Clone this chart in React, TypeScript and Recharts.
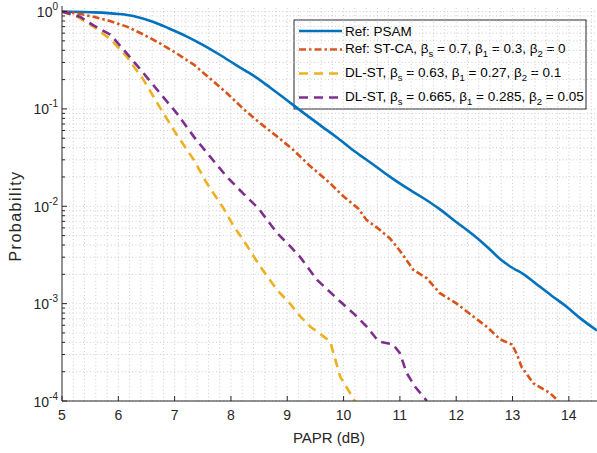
import React from 'react';
import { LineChart, Line, XAxis, YAxis, ReferenceLine, Customized } from 'recharts';

// ---- data ----
const xTicks = [5, 6, 7, 8, 9, 10, 11, 12, 13, 14];
const yDecades = [1e-4, 1e-3, 1e-2, 1e-1, 1];
const yMinor = [2, 3, 4, 5, 6, 7, 8, 9];

const psamX = [5, 5.5, 6, 6.3, 6.6, 6.9, 7.2, 7.5, 7.8, 8.1, 8.4, 8.7, 9.0, 9.3, 9.6, 9.9, 10.2, 10.5, 10.8, 11.1, 11.4, 11.7, 12.0, 12.3, 12.6, 12.8, 13.01, 13.2, 13.4, 13.7, 13.96, 14.2, 14.5];
const psamY = [1.0, 0.985, 0.945, 0.89, 0.79, 0.67, 0.56, 0.455, 0.36, 0.28, 0.22, 0.165, 0.122, 0.09, 0.067, 0.05, 0.0365, 0.0275, 0.0205, 0.0157, 0.0123, 0.0094, 0.0069, 0.0051, 0.0036, 0.0028, 0.00231, 0.002, 0.00163, 0.0012, 0.00093, 0.00071, 0.00053];

const stcaX = [5, 5.3, 5.56, 5.85, 6.15, 6.45, 6.74, 7.04, 7.34, 7.63, 7.93, 8.22, 8.52, 8.82, 9.11, 9.4, 9.7, 10.0, 10.26, 10.41, 10.6, 10.82, 11.0, 11.24, 11.48, 11.71, 12.01, 12.3, 12.54, 12.78, 12.99, 13.08, 13.16, 13.37, 13.67, 13.81];
const stcaY = [1.0, 0.95, 0.885, 0.8, 0.7, 0.58, 0.471, 0.37, 0.285, 0.205, 0.145, 0.1, 0.0711, 0.052, 0.0378, 0.026, 0.0186, 0.0126, 0.0095, 0.0072, 0.006, 0.0047, 0.0035, 0.00222, 0.00182, 0.00128, 0.001, 0.00074, 0.00058, 0.00043, 0.00038, 0.0003, 0.000224, 0.000152, 0.00012, 0.0001];

const dl1X = [5, 5.27, 5.56, 5.86, 6.15, 6.45, 6.71, 7.04, 7.34, 7.57, 7.87, 8.05, 8.22, 8.52, 8.82, 9.05, 9.23, 9.41, 9.76, 9.82, 9.94, 10.2];
const dl1Y = [1.0, 0.885, 0.7, 0.52, 0.344, 0.198, 0.11, 0.054, 0.03, 0.0173, 0.0095, 0.0062, 0.0045, 0.0024, 0.00138, 0.001, 0.00074, 0.00058, 0.00041, 0.00031, 0.000178, 0.0001];

const dl2X = [5, 5.32, 5.56, 5.86, 6.15, 6.45, 6.74, 7.04, 7.34, 7.63, 7.93, 8.22, 8.49, 8.82, 9.05, 9.23, 9.53, 9.94, 10.18, 10.41, 10.62, 10.88, 11.0, 11.12, 11.27, 11.48];
const dl2Y = [1.0, 0.885, 0.72, 0.58, 0.372, 0.232, 0.145, 0.09, 0.0519, 0.0323, 0.02, 0.0135, 0.0095, 0.0053, 0.0039, 0.003, 0.00175, 0.00105, 0.00079, 0.00058, 0.00041, 0.00038, 0.00031, 0.000194, 0.00014, 0.0001];

const zip = (xs: number[], ys: number[]) => xs.map((x, i) => ({ x, y: ys[i] }));
const psamData = zip(psamX, psamY);
const stcaData = zip(stcaX, stcaY);
const dl1Data = zip(dl1X, dl1Y);
const dl2Data = zip(dl2X, dl2Y);

const yAllTicks: number[] = [];
yDecades.forEach((d, i) => {
  yAllTicks.push(d);
  if (i < yDecades.length - 1) yMinor.forEach((m) => yAllTicks.push(+(m * d).toPrecision(3)));
});
const xGrid: number[] = [];
for (let i = 1; i < 48; i++) xGrid.push(+(5 + i * 0.2).toFixed(2));

const C_BLUE = '#0072BD';
const C_ORANGE = '#D95319';
const C_YELLOW = '#EDB120';
const C_PURPLE = '#7E2F8E';
const AX = '#262626';
const FONT = '"Liberation Sans", Arial, Helvetica, sans-serif';
const DASH_DOT = '7 3 2.5 3';
const DASH = '9 6';

const isDecade = (v: number) => Math.abs(Math.log10(v) - Math.round(Math.log10(v))) < 1e-6;

const XTickBottom = (props: any) => {
  const { x, y, payload } = props;
  return (
    <g>
      <line x1={x} x2={x} y1={y} y2={y - 5} stroke={AX} strokeWidth={1} />
      <text x={x} y={y + 19} textAnchor="middle" fontSize={14} fill={AX} fontFamily={FONT}>{payload.value}</text>
    </g>
  );
};
const XTickTop = (props: any) => {
  const { x, y } = props;
  return <line x1={x} x2={x} y1={y} y2={y + 5} stroke={AX} strokeWidth={1} />;
};
const YTickLeft = (props: any) => {
  const { x, y, payload } = props;
  const v = payload.value;
  if (isDecade(v)) {
    const e = Math.round(Math.log10(v));
    return (
      <g>
        <line x1={x} x2={x + 5} y1={y} y2={y} stroke={AX} strokeWidth={1} />
        <text x={x - 4} y={y + 5.5} textAnchor="end" fontSize={14} fill={AX} fontFamily={FONT}>
          <tspan>10</tspan>
          <tspan dy={-7} fontSize={10}>{String(e)}</tspan>
        </text>
      </g>
    );
  }
  return <line x1={x} x2={x + 3} y1={y} y2={y} stroke={AX} strokeWidth={1} />;
};
const YTickRight = (props: any) => {
  const { x, y, payload } = props;
  const len = isDecade(payload.value) ? 5 : 3;
  return <line x1={x} x2={x - len} y1={y} y2={y} stroke={AX} strokeWidth={1} />;
};

const FS = 13.5;
const LegendText = ({ y, parts }: { y: number; parts: string[] }) => {
  // parts alternate: normal, subscript, normal, subscript, ...
  const out: any[] = [];
  parts.forEach((p, i) => {
    const isSub = i % 2 === 1;
    const prevSub = i > 0 && (i - 1) % 2 === 1;
    if (isSub) {
      out.push(<tspan key={i} dy={4.5} fontSize={9.5}>{p}</tspan>);
    } else {
      out.push(<tspan key={i} dy={prevSub ? -4.5 : 0} fontSize={FS}>{p}</tspan>);
    }
  });
  return <text x={345} y={y} fontSize={FS} fill="#000" fontFamily={FONT}>{out}</text>;
};

const LegendBox = () => {
  const x0 = 294, y0 = 20, w = 292, h = 89;
  const lx1 = 299, lx2 = 342;
  const rows = [31, 49.5, 73.5, 97.5];
  const b = 'β';
  return (
    <g>
      <rect x={x0} y={y0} width={w} height={h} fill="#fff" stroke={AX} strokeWidth={1} />
      <line x1={lx1} x2={lx2} y1={rows[0]} y2={rows[0]} stroke={C_BLUE} strokeWidth={2.5} />
      <LegendText y={rows[0] + 5} parts={['Ref: PSAM']} />
      <line x1={lx1} x2={lx2} y1={rows[1]} y2={rows[1]} stroke={C_ORANGE} strokeWidth={2.5} strokeDasharray={DASH_DOT} />
      <LegendText y={rows[1] + 3} parts={['Ref: ST-CA, ' + b, 's', ' = 0.7, ' + b, '1', ' = 0.3, ' + b, '2', ' = 0']} />
      <line x1={lx1} x2={lx2} y1={rows[2]} y2={rows[2]} stroke={C_YELLOW} strokeWidth={2.5} strokeDasharray={DASH} />
      <LegendText y={rows[2] + 3} parts={['DL-ST, ' + b, 's', ' = 0.63, ' + b, '1', ' = 0.27, ' + b, '2', ' = 0.1']} />
      <line x1={lx1} x2={lx2} y1={rows[3]} y2={rows[3]} stroke={C_PURPLE} strokeWidth={2.5} strokeDasharray={DASH} />
      <LegendText y={rows[3] + 3} parts={['DL-ST, ' + b, 's', ' = 0.665, ' + b, '1', ' = 0.285, ' + b, '2', ' = 0.05']} />
    </g>
  );
};

const AxisTitles = () => (
  <g>
    <text x={329} y={443} textAnchor="middle" fontSize={15} fill={AX} fontFamily={FONT}>PAPR (dB)</text>
    <text x={0} y={0} transform="translate(21,216) rotate(-90)" textAnchor="middle" fontSize={16} letterSpacing={1.5} fill={AX} fontFamily={FONT}>Probability</text>
  </g>
);

export default function App() {
  const gridStyle = { stroke: '#c2c2c2', strokeWidth: 0.8, strokeDasharray: '1 2.5' };
  return (
    <div style={{ position: 'absolute', left: 0, top: 0, width: 597, height: 453, background: '#fff' }}>
      <LineChart width={597} height={453} margin={{ top: 6, right: 0, bottom: 0, left: 0 }}>
        <XAxis
          type="number"
          dataKey="x"
          domain={[5, 14.5]}
          ticks={xTicks}
          allowDataOverflow
          height={52}
          tickSize={0}
          tickMargin={0}
          interval={0}
          tickLine={false}
          axisLine={{ stroke: AX, strokeWidth: 1 }}
          tick={<XTickBottom />}
        />
        <XAxis
          xAxisId="top"
          orientation="top"
          type="number"
          dataKey="x"
          domain={[5, 14.5]}
          ticks={xTicks}
          allowDataOverflow
          height={0}
          tickSize={0}
          tickMargin={0}
          interval={0}
          tickLine={false}
          axisLine={{ stroke: AX, strokeWidth: 1 }}
          tick={<XTickTop />}
        />
        <YAxis
          type="number"
          scale="log"
          domain={[1e-4, 1.14]}
          ticks={yAllTicks}
          allowDataOverflow
          width={62}
          tickSize={0}
          tickMargin={0}
          interval={0}
          tickLine={false}
          axisLine={{ stroke: AX, strokeWidth: 1 }}
          tick={<YTickLeft />}
        />
        <YAxis
          yAxisId="right"
          orientation="right"
          type="number"
          scale="log"
          domain={[1e-4, 1.14]}
          ticks={yAllTicks}
          allowDataOverflow
          width={0}
          tickSize={0}
          tickMargin={0}
          interval={0}
          tickLine={false}
          axisLine={{ stroke: AX, strokeWidth: 1 }}
          tick={<YTickRight />}
        />
        {yAllTicks.map((v) => (
          <ReferenceLine key={'h' + v} y={v} {...gridStyle} />
        ))}
        {xGrid.map((v) => (
          <ReferenceLine key={'v' + v} x={v} {...gridStyle} />
        ))}
        <Line data={psamData} dataKey="y" type="monotone" stroke={C_BLUE} strokeWidth={2.6} dot={false} isAnimationActive={false} />
        <Line data={stcaData} dataKey="y" type="linear" stroke={C_ORANGE} strokeWidth={2.6} strokeDasharray={DASH_DOT} dot={false} isAnimationActive={false} />
        <Line data={dl1Data} dataKey="y" type="linear" stroke={C_YELLOW} strokeWidth={2.6} strokeDasharray={DASH} dot={false} isAnimationActive={false} />
        <Line data={dl2Data} dataKey="y" type="linear" stroke={C_PURPLE} strokeWidth={2.6} strokeDasharray={DASH} dot={false} isAnimationActive={false} />
        <Customized component={<LegendBox />} />
        <Customized component={<AxisTitles />} />
      </LineChart>
    </div>
  );
}
